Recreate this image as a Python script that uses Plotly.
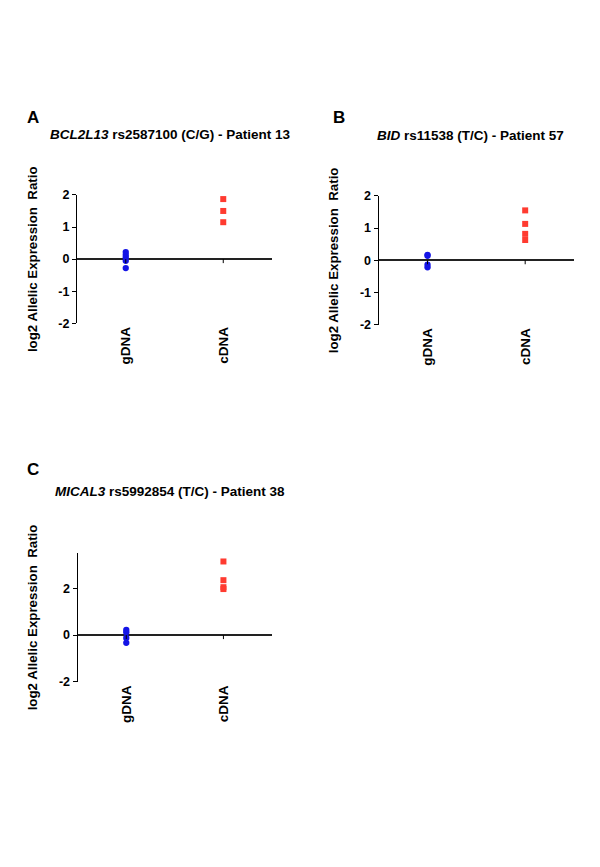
import plotly.graph_objects as go

W, H = 600, 867

categories = ["gDNA", "cDNA"]

# Panel A: BCL2L13
A_gDNA = [0.22, 0.13, 0.05, -0.05, -0.28]
A_cDNA = [1.87, 1.50, 1.15]
# Panel B: BID
B_gDNA = [0.17, 0.14, -0.14, -0.22]
B_cDNA = [1.55, 1.13, 0.82, 0.63]
# Panel C: MICAL3
C_gDNA = [0.22, 0.12, -0.12, -0.33]
C_cDNA = [3.15, 2.35, 2.05, 1.97]

A_yticks = [-2, -1, 0, 1, 2]
B_yticks = [-2, -1, 0, 1, 2]
C_yticks = [-2, 0, 2]

FONT = "Liberation Sans, Arial, sans-serif"
BLUE = "#1414e6"
RED = "#ff3b30"
XOFF = 8      # horizontal page offset
YOFF = 13.7   # vertical page offset
YSC = 0.986   # vertical rendering scale

def px(x):
    return (x - XOFF) / W

def py(y):
    return 1 - ((y - YOFF) / YSC) / H

panels = [
    dict(name="A", g=A_gDNA, c=A_cDNA, yt=A_yticks, yr=[-2, 2],
         xd=[px(77), px(272)], yd=[py(322.7), py(194)],
         title="<b><i>BCL2L13</i> rs2587100 (C/G) - Patient 13</b>",
         tx=px(170), ty=py(133), lx=px(25), ly=py(116), ytx=px(32)),
    dict(name="B", g=B_gDNA, c=B_cDNA, yt=B_yticks, yr=[-2, 2],
         xd=[px(378.7), px(574)], yd=[py(324), py(195)],
         title="<b><i>BID</i> rs11538 (T/C) - Patient 57</b>",
         tx=px(471), ty=py(134), lx=px(331), ly=py(116), ytx=px(333)),
    dict(name="C", g=C_gDNA, c=C_cDNA, yt=C_yticks, yr=[-2, 3.52],
         xd=[px(77.7), px(272)], yd=[py(682), py(552.7)],
         title="<b><i>MICAL3</i> rs5992854 (T/C) - Patient 38</b>",
         tx=px(170), ty=py(491), lx=px(25), ly=py(469), ytx=px(32)),
]

fig = go.Figure()
annotations = []
shapes = []
layout = dict(
    width=W, height=H,
    margin=dict(l=0, r=0, t=0, b=0),
    paper_bgcolor="white", plot_bgcolor="white",
    showlegend=False,
    font=dict(family=FONT, color="black"),
)

for i, p in enumerate(panels, start=1):
    xa = "x" if i == 1 else f"x{i}"
    ya = "y" if i == 1 else f"y{i}"
    xkey = "xaxis" if i == 1 else f"xaxis{i}"
    ykey = "yaxis" if i == 1 else f"yaxis{i}"
    fig.add_trace(go.Scatter(
        x=[categories[0]] * len(p["g"]), y=p["g"], mode="markers",
        marker=dict(symbol="circle", size=6.3, color=BLUE),
        xaxis=xa, yaxis=ya, cliponaxis=False))
    fig.add_trace(go.Scatter(
        x=[categories[1]] * len(p["c"]), y=p["c"], mode="markers",
        marker=dict(symbol="square", size=6, color=RED),
        xaxis=xa, yaxis=ya, cliponaxis=False))
    layout[xkey] = dict(
        domain=p["xd"], anchor=ya, type="category",
        categoryorder="array", categoryarray=categories,
        range=[-0.5, 1.5], showline=False, showgrid=False, zeroline=False,
        ticks="", tickangle=-90,
        tickfont=dict(family=FONT, size=13.5, color="black", weight="bold"),
    )
    layout[ykey] = dict(
        domain=p["yd"], anchor=xa, range=p["yr"],
        tickvals=p["yt"], ticktext=[str(v) for v in p["yt"]],
        showline=True, linecolor="black", linewidth=1.3,
        ticks="outside", ticklen=4, tickwidth=1.3, tickcolor="black",
        showgrid=False, zeroline=True, zerolinecolor="#222222", zerolinewidth=1.5,
        tickfont=dict(family=FONT, size=12.5, color="black", weight="bold"),
    )
    for c in categories:
        shapes.append(dict(type="line", xref=xa, yref=ya, x0=c, x1=c,
                           ysizemode="pixel", yanchor=0, y0=0, y1=-4,
                           line=dict(color="black", width=1)))
    annotations.append(dict(text=p["title"], x=p["tx"], y=p["ty"], xref="paper", yref="paper",
                            showarrow=False, xanchor="center", yanchor="middle",
                            font=dict(family=FONT, size=13.5, color="black")))
    annotations.append(dict(text="<b>" + p["name"] + "</b>", x=p["lx"], y=p["ly"],
                            xref="paper", yref="paper", showarrow=False,
                            xanchor="left", yanchor="middle",
                            font=dict(family=FONT, size=17, color="black")))
    annotations.append(dict(text="<b>log2 Allelic Expression  Ratio</b>", x=p["ytx"],
                            y=(p["yd"][0] + p["yd"][1]) / 2, xref="paper", yref="paper",
                            showarrow=False, textangle=-90, xanchor="center", yanchor="middle",
                            font=dict(family=FONT, size=13.3, color="black")))

layout["annotations"] = annotations
layout["shapes"] = shapes
fig.update_layout(**layout)
fig.write_html("out.html")
